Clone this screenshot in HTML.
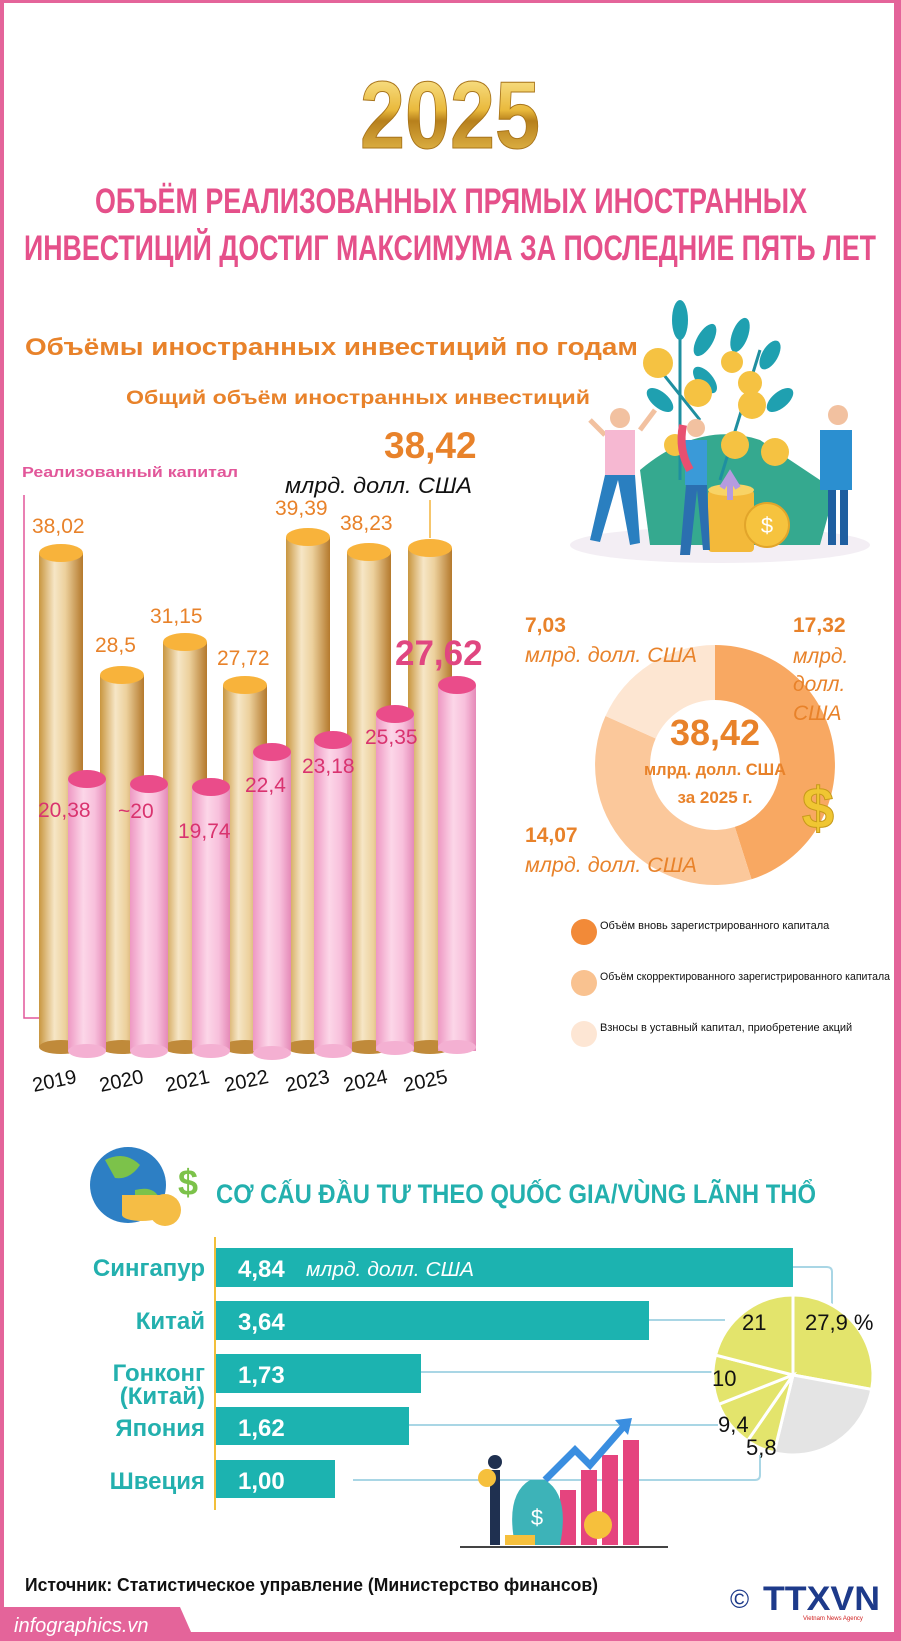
<!DOCTYPE html>
<html><head><meta charset="utf-8">
<style>
html,body{margin:0;padding:0;background:#fff;}
body{width:901px;height:1641px;overflow:hidden;position:relative;}
svg{position:absolute;left:0;top:0;}
text{font-family:"Liberation Sans",sans-serif;}
.nar{font-family:"Liberation Sans Narrow","Liberation Sans",sans-serif;}
</style></head><body>
<svg width="901" height="1641" viewBox="0 0 901 1641" xmlns="http://www.w3.org/2000/svg">
<defs>
<linearGradient id="gold" x1="0" x2="1" y1="0" y2="0">
<stop offset="0" stop-color="#c9963f"/><stop offset="0.35" stop-color="#f6e6c6"/><stop offset="0.6" stop-color="#ecd09c"/><stop offset="1" stop-color="#b4792c"/></linearGradient>
<linearGradient id="pink" x1="0" x2="1" y1="0" y2="0">
<stop offset="0" stop-color="#ee98c3"/><stop offset="0.4" stop-color="#fcd6e8"/><stop offset="0.7" stop-color="#f8c0dc"/><stop offset="1" stop-color="#e58ab8"/></linearGradient>
<linearGradient id="g25" x1="0" x2="0" y1="0" y2="1">
<stop offset="0" stop-color="#fff1a8"/><stop offset="0.45" stop-color="#e9b93c"/><stop offset="0.55" stop-color="#b7801c"/><stop offset="1" stop-color="#f3cc5a"/></linearGradient>
</defs>
<!-- border -->
<rect x="0" y="0" width="901" height="3" fill="#e4649a"/>
<rect x="0" y="0" width="4" height="1641" fill="#e4649a"/>
<rect x="894" y="0" width="7" height="1641" fill="#e4649a"/>
<rect x="0" y="1632" width="901" height="9" fill="#e4649a"/>
<path d="M0 1607 L180 1607 L195 1641 L0 1641Z" fill="#e4649a"/>
<text x="14" y="1632" font-size="20" font-style="italic" fill="#fff" class="nar">infographics.vn</text>

<!-- 2025 -->
<text x="450" y="148" font-size="96" font-weight="bold" fill="url(#g25)" stroke="#a8741a" stroke-width="1" text-anchor="middle" class="nar" textLength="180" lengthAdjust="spacingAndGlyphs">2025</text>
<text x="451" y="213" font-size="35" font-weight="bold" fill="#e5508a" text-anchor="middle" class="nar" textLength="712" lengthAdjust="spacingAndGlyphs">ОБЪЁМ РЕАЛИЗОВАННЫХ ПРЯМЫХ ИНОСТРАННЫХ</text>
<text x="450" y="260" font-size="35" font-weight="bold" fill="#e5508a" text-anchor="middle" class="nar" textLength="852" lengthAdjust="spacingAndGlyphs">ИНВЕСТИЦИЙ ДОСТИГ МАКСИМУМА ЗА ПОСЛЕДНИЕ ПЯТЬ ЛЕТ</text>
<text x="25" y="355" font-size="24" font-weight="bold" fill="#e8822a" textLength="613" lengthAdjust="spacingAndGlyphs">Объёмы иностранных инвестиций по годам</text>
<text x="126" y="404" font-size="19" font-weight="bold" fill="#e8822a" textLength="464" lengthAdjust="spacingAndGlyphs">Общий объём иностранных инвестиций</text>

<!-- top illustration -->
<g>
<ellipse cx="720" cy="545" rx="150" ry="18" fill="#f3eef4"/>
<path d="M640 470 Q700 420 760 440 L835 490 L820 545 L650 545Z" fill="#35a98f"/>
<path d="M680 480 L680 330 M720 480 L760 350 M700 420 L660 370" stroke="#1f8fa0" stroke-width="3" fill="none"/>
<g fill="#1fa0b0"><ellipse cx="680" cy="320" rx="8" ry="20"/><ellipse cx="740" cy="335" rx="8" ry="18" transform="rotate(20 740 335)"/><ellipse cx="705" cy="340" rx="8" ry="18" transform="rotate(30 705 340)"/><ellipse cx="770" cy="355" rx="8" ry="16" transform="rotate(30 770 355)"/><ellipse cx="660" cy="400" rx="8" ry="16" transform="rotate(-50 660 400)"/><ellipse cx="780" cy="400" rx="8" ry="16" transform="rotate(50 780 400)"/><ellipse cx="705" cy="380" rx="8" ry="16" transform="rotate(-40 705 380)"/></g>
<g fill="#f5c242"><circle cx="658" cy="363" r="15"/><circle cx="698" cy="393" r="14"/><circle cx="750" cy="383" r="12"/><circle cx="752" cy="405" r="14"/><circle cx="732" cy="362" r="11"/><circle cx="735" cy="445" r="14"/><circle cx="775" cy="452" r="14"/><circle cx="675" cy="445" r="11"/></g>
<g fill="#f3b93a"><rect x="708" y="490" width="46" height="62" rx="4"/><ellipse cx="731" cy="490" rx="23" ry="6" fill="#f8d365"/><circle cx="767" cy="525" r="22" fill="#f6c33e" stroke="#e2a52a" stroke-width="2"/></g>
<text x="767" y="533" font-size="22" fill="#fff" text-anchor="middle">$</text>
<path d="M730 500 L730 480 M722 488 L730 475 L738 488" stroke="#b59be0" stroke-width="6" fill="none"/>
<!-- people -->
<path d="M590 420 L605 435" stroke="#f2c1a0" stroke-width="5"/>
<path d="M655 410 L640 430" stroke="#f2c1a0" stroke-width="5"/>
<g><rect x="605" y="430" width="30" height="45" fill="#f6b8d2"/><circle cx="620" cy="418" r="10" fill="#f2c1a0"/><path d="M605 475 L590 540 L600 542 L618 480 L630 545 L640 543 L635 475Z" fill="#2a7fc0"/></g>
<g><rect x="685" y="440" width="22" height="45" fill="#3a9ad8"/><circle cx="696" cy="428" r="9" fill="#f2c1a0"/><path d="M683 425 Q678 450 690 470" stroke="#e85070" stroke-width="8" fill="none"/><path d="M686 485 L680 555 L690 555 L697 490 L703 550 L710 550 L707 485Z" fill="#2b6fb0"/></g>
<g><rect x="820" y="430" width="32" height="60" fill="#2b8fd0"/><circle cx="838" cy="415" r="10" fill="#f2c1a0"/><rect x="828" y="490" width="8" height="55" fill="#1f5fa0"/><rect x="840" y="490" width="8" height="55" fill="#1f5fa0"/></g>
</g>

<!-- bar chart -->
<text x="22" y="477" font-size="15" font-weight="bold" fill="#e2579a" textLength="216" lengthAdjust="spacingAndGlyphs">Реализованный капитал</text>
<path d="M24 495 L24 1018 L63 1018" stroke="#e2579a" stroke-width="1.5" fill="none"/>
<g>
<g fill="url(#gold)">
<rect x="39" y="553" width="44" height="494"/><rect x="100" y="675" width="44" height="372"/><rect x="163" y="642" width="44" height="405"/><rect x="223" y="685" width="44" height="362"/><rect x="286" y="537" width="44" height="510"/><rect x="347" y="552" width="44" height="495"/><rect x="408" y="548" width="44" height="499"/>
</g>
<g fill="#c08a3a"><ellipse cx="61" cy="1047" rx="22" ry="7"/><ellipse cx="122" cy="1047" rx="22" ry="7"/><ellipse cx="185" cy="1047" rx="22" ry="7"/><ellipse cx="245" cy="1047" rx="22" ry="7"/><ellipse cx="308" cy="1047" rx="22" ry="7"/><ellipse cx="369" cy="1047" rx="22" ry="7"/><ellipse cx="430" cy="1047" rx="22" ry="7"/></g>
<g fill="#f8b33b"><ellipse cx="61" cy="553" rx="22" ry="9"/><ellipse cx="122" cy="675" rx="22" ry="9"/><ellipse cx="185" cy="642" rx="22" ry="9"/><ellipse cx="245" cy="685" rx="22" ry="9"/><ellipse cx="308" cy="537" rx="22" ry="9"/><ellipse cx="369" cy="552" rx="22" ry="9"/><ellipse cx="430" cy="548" rx="22" ry="9"/></g>
<g fill="url(#pink)">
<rect x="68" y="779" width="38" height="272"/><rect x="130" y="784" width="38" height="267"/><rect x="192" y="787" width="38" height="264"/><rect x="253" y="752" width="38" height="299"/><rect x="314" y="740" width="38" height="311"/><rect x="376" y="714" width="38" height="337"/><rect x="438" y="685" width="38" height="366"/>
</g>
<g fill="#f4b0d2"><ellipse cx="87" cy="1051" rx="19" ry="7"/><ellipse cx="149" cy="1051" rx="19" ry="7"/><ellipse cx="211" cy="1051" rx="19" ry="7"/><ellipse cx="272" cy="1053" rx="19" ry="7"/><ellipse cx="333" cy="1051" rx="19" ry="7"/><ellipse cx="395" cy="1048" rx="19" ry="7"/><ellipse cx="457" cy="1047" rx="19" ry="7"/></g>
<g fill="#ea4c8a"><ellipse cx="87" cy="779" rx="19" ry="9"/><ellipse cx="149" cy="784" rx="19" ry="9"/><ellipse cx="211" cy="787" rx="19" ry="9"/><ellipse cx="272" cy="752" rx="19" ry="9"/><ellipse cx="333" cy="740" rx="19" ry="9"/><ellipse cx="395" cy="714" rx="19" ry="9"/><ellipse cx="457" cy="685" rx="19" ry="9"/></g>
</g>
<g font-size="21" fill="#e8822a">
<text x="32" y="533">38,02</text><text x="95" y="652">28,5</text><text x="150" y="623">31,15</text><text x="217" y="665">27,72</text><text x="275" y="515">39,39</text><text x="340" y="530">38,23</text>
</g>
<text x="384" y="458" font-size="37" font-weight="bold" fill="#e8822a">38,42</text>
<text x="285" y="493" font-size="22" font-style="italic" fill="#111" textLength="187" lengthAdjust="spacingAndGlyphs">млрд. долл. США</text>
<line x1="430" y1="500" x2="430" y2="538" stroke="#f2b33a" stroke-width="1.5"/>
<text x="395" y="665" font-size="35" font-weight="bold" fill="#e04680">27,62</text>
<g font-size="21" fill="#d9336f">
<text x="38" y="817">20,38</text><text x="118" y="818">~20</text><text x="178" y="838">19,74</text><text x="245" y="792">22,4</text><text x="302" y="773">23,18</text><text x="365" y="744">25,35</text>
</g>
<g font-size="20" fill="#111">
<text x="34" y="1092" transform="rotate(-12 34 1092)">2019</text>
<text x="101" y="1092" transform="rotate(-12 101 1092)">2020</text>
<text x="167" y="1092" transform="rotate(-12 167 1092)">2021</text>
<text x="226" y="1092" transform="rotate(-12 226 1092)">2022</text>
<text x="287" y="1092" transform="rotate(-12 287 1092)">2023</text>
<text x="345" y="1092" transform="rotate(-12 345 1092)">2024</text>
<text x="405" y="1092" transform="rotate(-12 405 1092)">2025</text>
</g>

<!-- donut -->
<path d="M715 645 A120 120 0 0 1 751.5 879.3 L734.8 826.9 A65 65 0 0 0 715 700Z" fill="#f8a862"/>
<path d="M751.5 879.3 A120 120 0 0 1 605.5 716 L655.7 738.5 A65 65 0 0 0 734.8 826.9Z" fill="#fbc89b"/>
<path d="M605.5 716 A120 120 0 0 1 715 645 L715 700 A65 65 0 0 0 655.7 738.5Z" fill="#fde6d2"/>
<text x="715" y="745" font-size="36" font-weight="bold" fill="#e8822a" text-anchor="middle" class="nar">38,42</text>
<text x="715" y="775" font-size="17" font-weight="bold" fill="#e8822a" text-anchor="middle" class="nar" textLength="142" lengthAdjust="spacingAndGlyphs">млрд. долл. США</text>
<text x="715" y="803" font-size="17" font-weight="bold" fill="#e8822a" text-anchor="middle" class="nar">за 2025 г.</text>
<text x="818" y="828" font-size="58" font-weight="bold" fill="#f0c632" stroke="#c79a1a" text-anchor="middle">$</text>
<g fill="#e8822a">
<text x="525" y="632" font-size="21" font-weight="bold">7,03</text>
<text x="525" y="662" font-size="21" font-style="italic" textLength="172" lengthAdjust="spacingAndGlyphs">млрд. долл. США</text>
<text x="793" y="632" font-size="21" font-weight="bold">17,32</text>
<text x="793" y="663" font-size="21" font-style="italic">млрд.</text>
<text x="793" y="691" font-size="21" font-style="italic">долл.</text>
<text x="793" y="720" font-size="21" font-style="italic">США</text>
<text x="525" y="842" font-size="21" font-weight="bold">14,07</text>
<text x="525" y="872" font-size="21" font-style="italic" textLength="172" lengthAdjust="spacingAndGlyphs">млрд. долл. США</text>
</g>
<circle cx="584" cy="932" r="13" fill="#f28a38"/>
<circle cx="584" cy="983" r="13" fill="#f9c290"/>
<circle cx="584" cy="1034" r="13" fill="#fde6d4"/>
<g font-size="11" fill="#111">
<text x="600" y="929">Объём вновь зарегистрированного капитала</text>
<text x="600" y="980" textLength="290" lengthAdjust="spacingAndGlyphs">Объём скорректированного зарегистрированного капитала</text>
<text x="600" y="1031">Взносы в уставный капитал, приобретение акций</text>
</g>

<!-- globe -->
<circle cx="128" cy="1185" r="38" fill="#2d7fc4"/>
<path d="M105 1160 Q125 1150 140 1165 Q130 1180 115 1178Z M135 1190 Q155 1185 160 1200 Q145 1215 135 1205Z" fill="#7cc24a"/>
<g fill="#f5bd45"><ellipse cx="142" cy="1215" rx="20" ry="6"/><rect x="122" y="1195" width="40" height="20"/><circle cx="165" cy="1210" r="16"/></g>
<text x="178" y="1195" font-size="36" font-weight="bold" fill="#7cc24a">$</text>
<text x="216" y="1203" font-size="27" font-weight="bold" fill="#23b0ae" class="nar" textLength="600" lengthAdjust="spacingAndGlyphs">CƠ CẤU ĐẦU TƯ THEO QUỐC GIA/VÙNG LÃNH THỔ</text>

<!-- country bars -->
<line x1="215" y1="1237" x2="215" y2="1510" stroke="#f2bf3a" stroke-width="2"/>
<g stroke="#a9d6e5" stroke-width="2" fill="none">
<path d="M793 1267 L827 1267 Q832 1267 832 1272 L832 1305"/>
<line x1="649" y1="1320" x2="725" y2="1320"/>
<line x1="421" y1="1372" x2="712" y2="1372"/>
<line x1="409" y1="1425" x2="718" y2="1425"/>
<path d="M353 1480 L755 1480 Q760 1480 760 1475 L760 1455"/>
</g>
<g fill="#1cb3b0">
<rect x="216" y="1248" width="577" height="39"/>
<rect x="216" y="1301" width="433" height="39"/>
<rect x="216" y="1354" width="205" height="39"/>
<rect x="216" y="1407" width="193" height="38"/>
<rect x="216" y="1460" width="119" height="38"/>
</g>
<g font-size="24" font-weight="bold" fill="#23b0ae" text-anchor="end" class="nar">
<text x="205" y="1276">Сингапур</text>
<text x="205" y="1329">Китай</text>
<text x="205" y="1381">Гонконг</text>
<text x="205" y="1404">(Китай)</text>
<text x="205" y="1436">Япония</text>
<text x="205" y="1489">Швеция</text>
</g>
<g font-size="24" font-weight="bold" fill="#fff" class="nar">
<text x="238" y="1277">4,84</text>
<text x="238" y="1330">3,64</text>
<text x="238" y="1383">1,73</text>
<text x="238" y="1436">1,62</text>
<text x="238" y="1489">1,00</text>
</g>
<text x="306" y="1276" font-size="20" font-style="italic" fill="#fff" class="nar" textLength="168" lengthAdjust="spacingAndGlyphs">млрд. долл. США</text>

<!-- pie -->
<g stroke="#fff" stroke-width="3">
<path d="M793 1375 L793 1295 A80 80 0 0 1 871.7 1389.4Z" fill="#e3e46c"/>
<path d="M793 1375 L871.7 1389.4 A80 80 0 0 1 774.1 1452.7Z" fill="#e4e4e4"/>
<path d="M793 1375 L774.1 1452.7 A80 80 0 0 1 747.6 1440.8Z" fill="#e3e46c"/>
<path d="M793 1375 L747.6 1440.8 A80 80 0 0 1 718.6 1404.4Z" fill="#e3e46c"/>
<path d="M793 1375 L718.6 1404.4 A80 80 0 0 1 715.5 1355.1Z" fill="#e3e46c"/>
<path d="M793 1375 L715.5 1355.1 A80 80 0 0 1 793 1295Z" fill="#e3e46c"/>
</g>
<g font-size="22" fill="#111" class="nar">
<text x="805" y="1330">27,9 %</text>
<text x="742" y="1330">21</text>
<text x="712" y="1386">10</text>
<text x="718" y="1432">9,4</text>
<text x="746" y="1455">5,8</text>
</g>

<!-- growth illustration -->
<g>
<rect x="560" y="1490" width="16" height="55" fill="#e5447e"/>
<rect x="581" y="1470" width="16" height="75" fill="#e5447e"/>
<rect x="602" y="1455" width="16" height="90" fill="#e5447e"/>
<rect x="623" y="1440" width="16" height="105" fill="#e5447e"/>
<path d="M545 1480 L575 1450 L590 1465 L625 1425" stroke="#3a8ee0" stroke-width="7" fill="none"/>
<path d="M615 1420 L632 1418 L628 1435Z" fill="#3a8ee0"/>
<path d="M515 1545 Q505 1495 530 1480 L545 1480 Q570 1495 560 1545Z" fill="#3db3b8"/>
<text x="537" y="1525" font-size="22" fill="#fff" text-anchor="middle">$</text>
<circle cx="598" cy="1525" r="14" fill="#f6c03c"/>
<rect x="505" y="1535" width="30" height="10" fill="#f6c03c"/>
<rect x="490" y="1470" width="10" height="75" fill="#1f3050"/>
<circle cx="495" cy="1462" r="7" fill="#1f3050"/>
<circle cx="487" cy="1478" r="9" fill="#f6c03c"/>
<line x1="460" y1="1547" x2="668" y2="1547" stroke="#444" stroke-width="2"/>
</g>

<text x="25" y="1591" font-size="18" font-weight="bold" fill="#111" class="nar" textLength="573" lengthAdjust="spacingAndGlyphs">Источник: Статистическое управление (Министерство финансов)</text>
<text x="730" y="1608" font-size="26" fill="#1d3a8a">©</text>
<text x="763" y="1610" font-size="34" font-weight="bold" fill="#1d3a8a" class="nar" textLength="117" lengthAdjust="spacingAndGlyphs">TTXVN</text>
<text x="803" y="1620" font-size="6" fill="#d02020">Vietnam News Agency</text>
</svg>
</body></html>
